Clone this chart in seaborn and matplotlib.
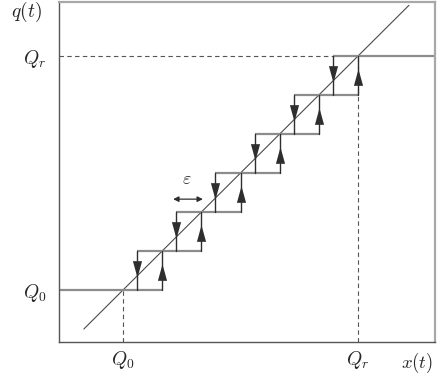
import numpy as np
import pandas as pd
import matplotlib
matplotlib.use("Agg")
import matplotlib.pyplot as plt
import seaborn as sns

# quantizer levels Q_0 .. Q_r (one step per unit)
levels = [0, 1, 2, 3, 4, 5, 6]
eps = 0.64                      # hysteresis width
diag_x = [-1.0, 7.3]            # ends of the identity line q = x
tick_pos = [0, 6]
tick_labels = [r"$Q_0$", r"$Q_r$"]

sns.set_style("white")
plt.rcParams["mathtext.fontset"] = "cm"
plt.rcParams["font.family"] = ["DejaVu Sans"]

fig = plt.figure(figsize=(4.39, 3.76), dpi=100)
ax = fig.add_axes([59 / 439, 34 / 376, 376 / 439, 340 / 376])
ax.set_xlim(-1.634, 7.965)
ax.set_ylim(-1.333, 7.385)

LIGHT = "#8c8c8c"
DARK = "#2e2e2e"

# identity line
df_diag = pd.DataFrame({"x": diag_x, "q": diag_x})
sns.lineplot(data=df_diag, x="x", y="q", ax=ax, color="#4a4a4a", lw=0.8)

# dashed guides
ax.plot([levels[0], levels[0]], [-1.333, levels[0]], ls=(0, (4, 3)), color="#555555", lw=0.8)
ax.plot([levels[-1], levels[-1]], [-1.333, levels[-1]], ls=(0, (4, 3)), color="#555555", lw=0.8)
ax.plot([-1.634, levels[-1] - eps], [levels[-1], levels[-1]], ls=(0, (4, 3)), color="#555555", lw=0.8)

# horizontal steps
for k in levels:
    left = -1.634 if k == levels[0] else k - eps
    right = 7.965 if k == levels[-1] else k + 1
    ax.plot([left, right], [k, k], color=LIGHT, lw=1.6, solid_capstyle="butt", zorder=2)

# arrow heads: long thin triangles
up_head = [(-0.55, -1.0), (0.55, -1.0), (0.0, 1.0)]
down_head = [(-0.55, 1.0), (0.55, 1.0), (0.0, -1.0)]

for k in levels[1:]:
    # jump up at x = Q_k
    ax.plot([k, k], [k - 1, k], color=DARK, lw=1.0, zorder=3)
    ax.plot(k, k - 0.55, marker=up_head, ms=12, color=DARK, mew=0, zorder=4)
    # jump down at x = Q_k - eps
    ax.plot([k - eps, k - eps], [k - 1, k], color=DARK, lw=1.0, zorder=3)
    ax.plot(k - eps, k - 0.45, marker=down_head, ms=12, color=DARK, mew=0, zorder=4)

# epsilon marker
ax.annotate("", xy=(1.28, 2.33), xytext=(2.04, 2.33),
            arrowprops=dict(arrowstyle="<|-|>", color=DARK, lw=0.9,
                            mutation_scale=8, shrinkA=0, shrinkB=0))
ax.text(1.63, 2.62, r"$\varepsilon$", fontsize=13, ha="center", va="bottom", color="#333333")

# ticks and labels
ax.set_xticks(tick_pos)
ax.set_xticklabels(tick_labels, fontsize=14)
ax.set_yticks(tick_pos)
ax.set_yticklabels(tick_labels, fontsize=14)
ax.tick_params(axis="x", length=0, pad=5)
ax.tick_params(axis="y", length=0, pad=9)
ax.set_xlabel("")
ax.set_ylabel("")

for side in ["left", "bottom"]:
    ax.spines[side].set_color("#555555")
    ax.spines[side].set_linewidth(1.0)
for side in ["top", "right"]:
    ax.spines[side].set_color("#a8a8a8")
    ax.spines[side].set_linewidth(1.6)

fig.text(26 / 439, 1 - 12 / 376, r"$q(t)$", fontsize=14, ha="center", va="center")
fig.text(433 / 439, 1 - 363 / 376, r"$x(t)$", fontsize=13.5, ha="right", va="center")

fig.savefig("out.png", dpi=100)
